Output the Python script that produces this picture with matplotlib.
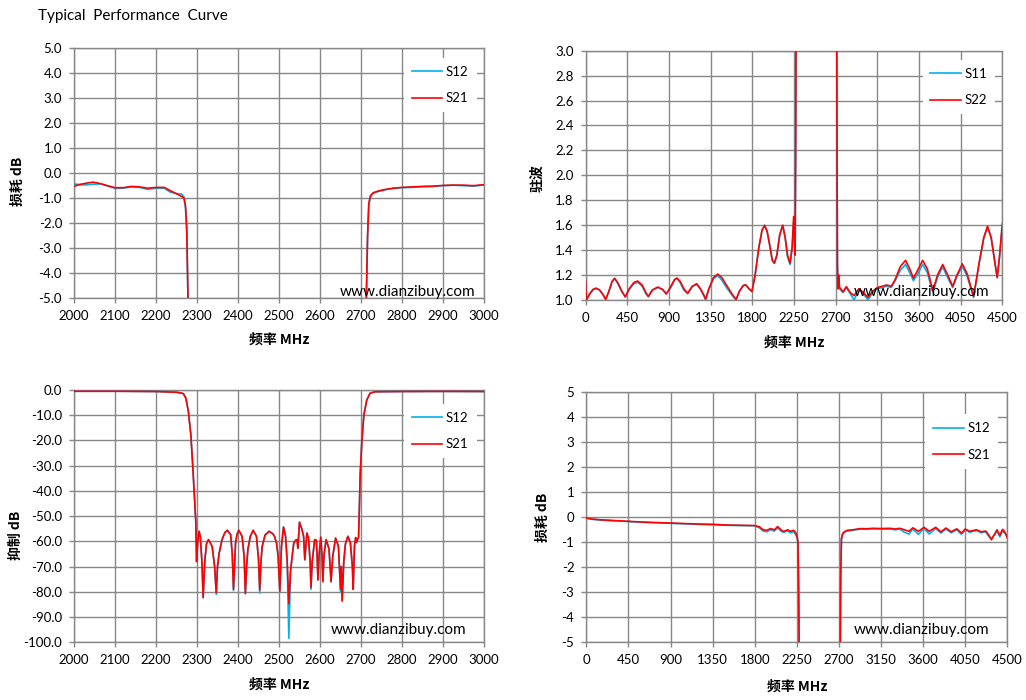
import matplotlib
matplotlib.use('Agg')
import matplotlib.pyplot as plt
from matplotlib.lines import Line2D
from matplotlib.ticker import FormatStrFormatter

plt.rcParams['font.family'] = ['Lato', 'Noto Sans CJK SC', 'DejaVu Sans']
plt.rcParams['axes.unicode_minus'] = False

# ---------------- data ----------------
title_text = "Typical  Performance  Curve"
watermark = "www.dianzibuy.com"
xlabel_text = "频率 MHz"

# Top-left: insertion loss 2000-3000 MHz
tl_freq = [2000, 2015, 2030, 2047, 2065, 2085, 2100, 2120, 2140, 2160,
           2180, 2200, 2220, 2235, 2250, 2262, 2268, 2272, 2275, 2278,
           2283, 2290, 2700, 2708, 2713, 2716, 2719, 2723, 2730, 2745,
           2760, 2780, 2800, 2825, 2850, 2875, 2900, 2925, 2950, 2975, 3000]
tl_s21 = [-0.52, -0.45, -0.4, -0.36, -0.42, -0.52, -0.58, -0.58, -0.53, -0.55,
          -0.6, -0.57, -0.57, -0.7, -0.82, -0.93, -0.98, -1.3, -2.2, -5.0,
          -12, -25, -25, -12, -5.0, -2.5, -1.2, -0.9, -0.78, -0.7,
          -0.65, -0.6, -0.57, -0.55, -0.53, -0.52, -0.49, -0.48, -0.48, -0.5, -0.46]
tl_s12 = [-0.43, -0.46, -0.47, -0.44, -0.43, -0.52, -0.61, -0.6, -0.55, -0.57,
          -0.65, -0.6, -0.6, -0.76, -0.82, -0.83, -0.95, -1.4, -2.4, -5.0,
          -12, -25, -25, -12, -5.0, -2.6, -1.3, -0.95, -0.8, -0.72,
          -0.66, -0.6, -0.58, -0.57, -0.54, -0.53, -0.5, -0.48, -0.5, -0.52, -0.47]
tl_yticks = [-5, -4, -3, -2, -1, 0, 1, 2, 3, 4, 5]
tl_xticks = [2000, 2100, 2200, 2300, 2400, 2500, 2600, 2700, 2800, 2900, 3000]

# Top-right: VSWR 0-4500 MHz
tr_freq = [0, 6, 40, 80, 115, 150, 190, 216, 250, 285,
           313, 345, 390, 428, 470, 520, 562, 610, 650, 677,
           720, 778, 830, 871, 920, 960, 986, 1020, 1060, 1102,
           1150, 1199, 1240, 1275, 1296, 1330, 1380, 1426, 1470, 1520,
           1580, 1624, 1660, 1700, 1728, 1765, 1796, 1830, 1870, 1905,
           1933, 1960, 1990, 2015, 2038, 2065, 2095, 2128, 2155, 2180,
           2207, 2230, 2246, 2255, 2262, 2268, 2274, 2290, 2700, 2710,
           2715, 2719, 2724, 2732, 2742, 2755, 2779, 2815, 2858, 2898,
           2950, 3000, 3049, 3100, 3150, 3200, 3250, 3300, 3340, 3400,
           3455, 3500, 3540, 3580, 3640, 3690, 3750, 3800, 3856, 3910,
           3964, 4010, 4068, 4120, 4190, 4250, 4300, 4340, 4380, 4420,
           4445, 4470, 4500]
tr_s22 = [1.15, 1.0, 1.045, 1.085, 1.094, 1.08, 1.04, 1.005, 1.07, 1.15,
          1.175, 1.14, 1.07, 1.025, 1.09, 1.14, 1.152, 1.12, 1.06, 1.028,
          1.08, 1.104, 1.085, 1.048, 1.11, 1.165, 1.176, 1.15, 1.09, 1.055,
          1.11, 1.13, 1.09, 1.04, 1.008, 1.09, 1.18, 1.208, 1.18, 1.12,
          1.05, 1.003, 1.07, 1.115, 1.122, 1.09, 1.068, 1.2, 1.42, 1.56,
          1.598, 1.55, 1.43, 1.32, 1.295, 1.36, 1.52, 1.6, 1.5, 1.36,
          1.295, 1.42, 1.67, 1.5, 1.36, 2.2, 3.6, 6.0, 6.0, 3.6,
          2.2, 1.3, 1.09, 1.2, 1.1, 1.09, 1.065, 1.107, 1.06, 1.035,
          1.09, 1.06, 1.02, 1.07, 1.1, 1.11, 1.12, 1.11, 1.16, 1.27,
          1.318, 1.25, 1.175, 1.23, 1.318, 1.25, 1.075, 1.2, 1.285, 1.2,
          1.11, 1.2, 1.29, 1.21, 1.03, 1.3, 1.5, 1.59, 1.5, 1.3,
          1.18, 1.35, 1.61]
tr_s11 = [1.15, 1.0, 1.045, 1.085, 1.094, 1.08, 1.04, 1.005, 1.065, 1.145,
          1.17, 1.135, 1.07, 1.025, 1.085, 1.13, 1.142, 1.11, 1.05, 1.028,
          1.08, 1.1, 1.085, 1.05, 1.1, 1.16, 1.172, 1.14, 1.08, 1.05,
          1.105, 1.128, 1.085, 1.035, 1.0, 1.085, 1.17, 1.195, 1.16, 1.1,
          1.04, 1.0, 1.07, 1.115, 1.12, 1.09, 1.068, 1.2, 1.42, 1.56,
          1.6, 1.55, 1.43, 1.32, 1.295, 1.36, 1.52, 1.6, 1.5, 1.35,
          1.285, 1.42, 1.63, 1.5, 1.36, 2.2, 3.6, 6.0, 6.0, 3.6,
          2.2, 1.3, 1.09, 1.18, 1.09, 1.08, 1.06, 1.1, 1.05, 1.0,
          1.08, 1.05, 1.0, 1.06, 1.09, 1.1, 1.11, 1.1, 1.15, 1.24,
          1.285, 1.22, 1.155, 1.2, 1.285, 1.22, 1.06, 1.18, 1.265, 1.18,
          1.1, 1.19, 1.27, 1.19, 1.02, 1.29, 1.5, 1.585, 1.5, 1.3,
          1.18, 1.34, 1.6]
tr_yticks = [1.0, 1.2, 1.4, 1.6, 1.8, 2.0, 2.2, 2.4, 2.6, 2.8, 3.0]
wide_xticks = [0, 450, 900, 1350, 1800, 2250, 2700, 3150, 3600, 4050, 4500]

# Bottom-left: rejection 2000-3000 MHz
bl_freq = [2000, 2100, 2200, 2250, 2262, 2267, 2273, 2279, 2285, 2289,
           2294, 2297, 2299, 2302, 2305, 2308, 2312, 2315, 2319, 2323,
           2328, 2337, 2343, 2347, 2350, 2354, 2361, 2368, 2374, 2382,
           2386, 2389, 2392, 2394, 2398, 2402, 2410, 2415, 2418, 2421,
           2424, 2430, 2437, 2445, 2450, 2453, 2456, 2459, 2466, 2476,
           2485, 2489, 2494, 2498, 2502, 2506, 2511, 2516, 2520, 2524,
           2528, 2532, 2536, 2541, 2544, 2546, 2550, 2556, 2560, 2563,
           2568, 2572, 2576, 2578, 2581, 2587, 2591, 2593, 2595, 2598,
           2602, 2605, 2607, 2610, 2615, 2622, 2627, 2631, 2638, 2645,
           2650, 2652, 2654, 2658, 2662, 2668, 2674, 2679, 2681, 2684,
           2687, 2689, 2692, 2694, 2696, 2698, 2702, 2707, 2714, 2722,
           2734, 2800, 2900, 3000]
bl_s21 = [-0.5, -0.5, -0.6, -0.9, -1.2, -1.5, -3.3, -8.6, -17.8, -28.4,
          -43, -52, -68, -60, -56, -58, -68, -82.3, -68, -61,
          -59.3, -62, -70, -80.4, -70, -64.7, -59.3, -56.5, -55.6, -57.3,
          -65, -79, -68, -60.7, -57, -55.6, -58, -66, -80.7, -70,
          -63.3, -58, -55.6, -58, -67, -79.3, -68, -62, -57.5, -56,
          -57, -58, -60.7, -66, -79.7, -62, -54.3, -58, -68, -84.7,
          -72, -66, -60.7, -59.5, -59.3, -62.7, -52.4, -55.3, -58, -67.3,
          -56.7, -58.7, -68, -78.3, -68, -59.3, -59.6, -66, -75.3, -65,
          -58.3, -66, -76, -65, -59.3, -63, -76, -66, -58.7, -62,
          -79, -70, -83.6, -68, -61, -58, -60.5, -70, -79, -62,
          -58.5, -60.4, -59, -58.5, -47, -33.7, -20.5, -9.9, -4, -1.3,
          -0.7, -0.6, -0.55, -0.6]
bl_s12 = [-0.5, -0.5, -0.6, -0.9, -1.2, -1.5, -3.3, -8.6, -17.8, -28.4,
          -43, -52, -68, -60, -56, -58, -68, -82.3, -68, -61,
          -59.3, -62, -70, -81, -70, -64.7, -59.3, -56.5, -55.6, -57.3,
          -65, -79.5, -68, -60.7, -57, -55.6, -58, -66, -80.7, -70,
          -63.3, -58, -55.6, -58, -67, -80.5, -68, -62, -57.5, -56,
          -57, -58, -60.7, -66, -79.7, -62, -54.3, -58, -68, -98.4,
          -72, -66, -60.7, -59.5, -59.3, -62.7, -52.4, -55.3, -58, -67.3,
          -56.7, -58.7, -68, -79, -68, -59.3, -59.6, -66, -75.3, -65,
          -58.3, -66, -76, -65, -59.3, -63, -76, -66, -58.7, -62,
          -80, -70, -83.6, -68, -61, -58, -60.5, -70, -79, -62,
          -58.5, -60.4, -59, -58.5, -47, -33.7, -20.5, -9.9, -4, -1.3,
          -0.7, -0.6, -0.55, -0.6]
bl_yticks = [-100, -90, -80, -70, -60, -50, -40, -30, -20, -10, 0]

# Bottom-right: insertion loss 0-4500 MHz
br_freq = [0, 60, 150, 300, 450, 600, 750, 900, 1050, 1200,
           1350, 1500, 1650, 1800, 1850, 1890, 1930, 1970, 2010, 2045,
           2080, 2110, 2150, 2185, 2215, 2240, 2255, 2262, 2270, 2276,
           2285, 2705, 2714, 2719, 2727, 2740, 2760, 2790, 2850, 2930,
           3000, 3060, 3150, 3250, 3300, 3350, 3400, 3450, 3490, 3550,
           3610, 3665, 3735, 3790, 3845, 3900, 3960, 4010, 4050, 4100,
           4170, 4220, 4270, 4300, 4330, 4360, 4390, 4420, 4450, 4475, 4500]
br_s21 = [-0.03, -0.07, -0.1, -0.13, -0.16, -0.19, -0.21, -0.23, -0.25, -0.27,
          -0.28, -0.31, -0.32, -0.33, -0.38, -0.5, -0.52, -0.45, -0.5, -0.37,
          -0.5, -0.57, -0.5, -0.56, -0.52, -0.62, -0.8, -1.0, -3.0, -5.5,
          -20, -20, -5.5, -2.5, -0.85, -0.65, -0.57, -0.52, -0.5, -0.45,
          -0.46, -0.44, -0.45, -0.44, -0.47, -0.44, -0.5, -0.56, -0.42, -0.56,
          -0.4, -0.56, -0.4, -0.58, -0.43, -0.58, -0.46, -0.63, -0.47, -0.56,
          -0.5, -0.58, -0.55, -0.7, -0.9, -0.7, -0.5, -0.72, -0.48, -0.6, -0.83]
br_s12 = [-0.03, -0.08, -0.11, -0.14, -0.17, -0.2, -0.22, -0.24, -0.26, -0.28,
          -0.3, -0.32, -0.33, -0.34, -0.42, -0.55, -0.58, -0.5, -0.55, -0.42,
          -0.55, -0.6, -0.55, -0.62, -0.58, -0.7, -0.85, -0.98, -3.0, -5.5,
          -20, -20, -5.5, -2.5, -0.9, -0.68, -0.6, -0.55, -0.52, -0.47,
          -0.48, -0.46, -0.47, -0.47, -0.5, -0.47, -0.6, -0.67, -0.47, -0.68,
          -0.45, -0.67, -0.45, -0.63, -0.47, -0.62, -0.5, -0.68, -0.5, -0.6,
          -0.52, -0.62, -0.58, -0.75, -0.85, -0.72, -0.55, -0.78, -0.55, -0.65, -0.75]
br_yticks = [-5, -4, -3, -2, -1, 0, 1, 2, 3, 4, 5]

# ---------------- styling ----------------
CYAN = '#00B0F0'
RED = '#FF0000'
GRID = '#878787'
W, H = 1026, 700

fig = plt.figure(figsize=(W / 100, H / 100), dpi=100)
fig.patch.set_facecolor('white')


def px_axes(left, top, right, bottom):
    return fig.add_axes([left / W, 1 - bottom / H, (right - left) / W, (bottom - top) / H])


def style(ax, xticks, yticks, yfmt, ylabel, ylab_xy, xlab_y, leg_labels, leg_xy, wm_xy,
          s_first, s_second, freq):
    ax.plot(freq, s_first, color=CYAN, lw=1.2, zorder=3)
    ax.plot(freq, s_second, color=RED, lw=1.2, zorder=4)
    ax.set_xlim(xticks[0], xticks[-1])
    ax.set_ylim(yticks[0], yticks[-1])
    ax.set_xticks(xticks)
    ax.set_yticks(yticks)
    ax.yaxis.set_major_formatter(FormatStrFormatter(yfmt))
    ax.grid(True, color=GRID, lw=1.0)
    ax.set_axisbelow(True)
    for sp in ax.spines.values():
        sp.set_color(GRID)
        sp.set_linewidth(1.0)
    ax.tick_params(direction='out', length=3.6, width=1.0, color=GRID,
                   labelsize=9.5, pad=5)
    ax.set_ylabel(ylabel, family=['Noto Sans CJK SC', 'DejaVu Sans'], weight='bold', fontsize=10)
    ax.yaxis.set_label_coords(*ylab_xy)
    ax.set_xlabel(xlabel_text, family=['Noto Sans CJK SC', 'DejaVu Sans'], weight='bold', fontsize=10)
    ax.xaxis.set_label_coords(0.5, xlab_y)
    handles = [Line2D([], [], color=CYAN, lw=1.2), Line2D([], [], color=RED, lw=1.2)]
    leg = ax.legend(handles, leg_labels, loc='center', bbox_to_anchor=leg_xy,
                    frameon=True, facecolor='white', edgecolor='none', framealpha=1,
                    fancybox=False, handlelength=2.3, handletextpad=0.3,
                    labelspacing=1.1, borderpad=0.6, fontsize=9.5)
    leg.set_zorder(6)
    ax.text(wm_xy[0], wm_xy[1], watermark, transform=ax.transAxes, ha='right',
            va='center', fontsize=11, zorder=7)


ax_tl = px_axes(74, 48, 484, 298.3)
style(ax_tl, tl_xticks, tl_yticks, '%.1f', '损耗 dB', (-0.12, 0.469), -0.139,
      ['S12', 'S21'], (0.893, 0.852), (0.98, 0.025), tl_s12, tl_s21, tl_freq)

ax_tr = px_axes(585.7, 50.7, 1002.3, 300)
style(ax_tr, wide_xticks, tr_yticks, '%.1f', '驻波', (-0.1, 0.49), -0.144,
      ['S11', 'S22'], (0.896, 0.854), (0.968, 0.032), tr_s11, tr_s22, tr_freq)

ax_bl = px_axes(74, 390, 484, 642.3)
style(ax_bl, tl_xticks, bl_yticks, '%.1f', '抑制 dB', (-0.124, 0.425), -0.141,
      ['S12', 'S21'], (0.893, 0.837), (0.956, 0.049), bl_s12, bl_s21, bl_freq)

ax_br = px_axes(586.3, 392.3, 1007.3, 642.3)
style(ax_br, wide_xticks, br_yticks, '%d', '损耗 dB', (-0.086, 0.5), -0.151,
      ['S12', 'S21'], (0.892, 0.803), (0.957, 0.049), br_s12, br_s21, br_freq)

fig.text(38 / W, 1 - 16 / H, title_text, fontsize=11, va='center', ha='left')

fig.savefig('out.png', dpi=100)
